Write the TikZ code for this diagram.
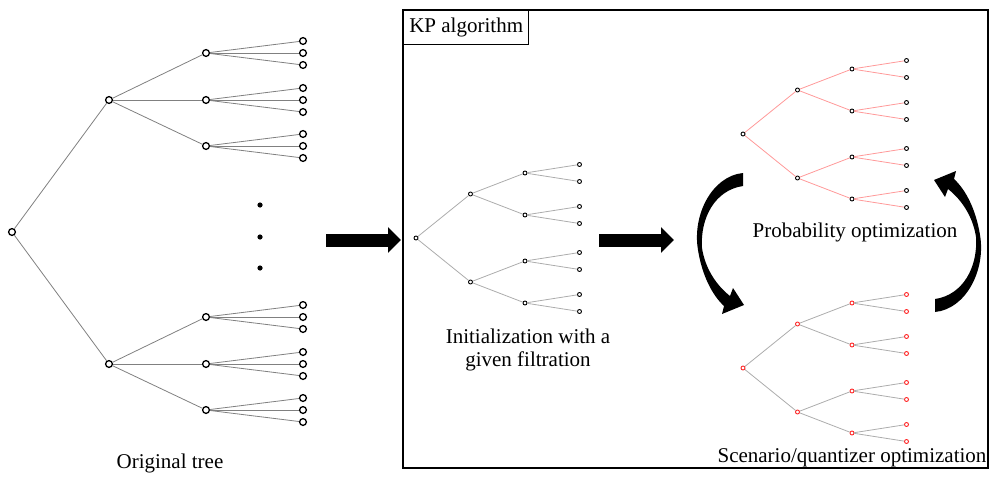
\documentclass[tikz,border=0pt]{standalone}
\usepackage{fontspec}
\setmainfont{Liberation Serif}
\usetikzlibrary{arrows.meta,positioning}

\tikzset{
  bignode/.style={circle,draw,fill=white,line width=0.65pt,inner sep=0pt,minimum size=3.4pt},
  smallnode/.style={circle,draw,fill=white,line width=0.45pt,inner sep=0pt,minimum size=2pt},
  rednode/.style={smallnode,draw=red!85},
  dotnode/.style={circle,fill,inner sep=0pt,minimum size=2.6pt},
  greyedge/.style={draw=gray,line width=0.4pt},
  lightedge/.style={draw=gray!65,line width=0.4pt},
  pinkedge/.style={draw=red!40,line width=0.4pt},
  bigarrow/.style={line width=6.5pt,-{Triangle[length=6.5pt,width=12.5pt]}},
}

% binary tree: prefix, x, y, edge style, node style
\newcommand{\bintree}[5]{%
  \node[#5] (#1) at (#2,#3) {};
  \foreach \i/\d in {1/-44,2/44}{
    \path (#1) ++(54.5,\d) node[#5] (#1\i) {};
    \draw[#4] (#1) -- (#1\i);
    \foreach \j/\e in {1/-21,2/21}{
      \path (#1\i) ++(54.5,\e) node[#5] (#1\i\j) {};
      \draw[#4] (#1\i) -- (#1\i\j);
      \foreach \k/\f in {1/-8.5,2/8.5}{
        \path (#1\i\j) ++(54.5,\f) node[#5] (#1\i\j\k) {};
        \draw[#4] (#1\i\j) -- (#1\i\j\k);
      }
    }
  }}

% tapered half-loop arrow
\newcommand{\swaparrow}{%
  \fill (743,173) .. controls (712,176) and (692,215) .. (698,250)
    .. controls (702,275) and (712,295) .. (724,306)
    -- (722,314) -- (744,305) -- (733,288) -- (730,296)
    .. controls (716,285) and (705,268) .. (702,248)
    .. controls (700,218) and (715,190) .. (743,186) -- cycle;}

\begin{document}
\begin{tikzpicture}[x=0.5pt,y=-0.5pt,every node/.append style={font=\fontsize{10.5}{11.5}\selectfont}]
\useasboundingbox (0,0) rectangle (1005,492);

% original tree
\node[bignode] (R) at (12,232) {};
\foreach \i/\y in {1/100,2/364}{
  \node[bignode] (R\i) at (109,\y) {};
  \draw[greyedge] (R) -- (R\i);
  \foreach \j/\d in {1/-47,2/0,3/46}{
    \path (R\i) ++(97,\d) node[bignode] (R\i\j) {};
    \draw[greyedge] (R\i) -- (R\i\j);
    \foreach \k/\e in {1/-12,2/0,3/12}{
      \path (R\i\j) ++(97,\e) node[bignode] (R\i\j\k) {};
      \draw[greyedge] (R\i\j) -- (R\i\j\k);
    }
  }
}
\foreach \y [count=\n] in {205,237,268}
  \node[dotnode] (dot\n) at (260,\y) {};
\node[anchor=base] (orig) at (170,468) {Original tree};

% arrow into the box
\coordinate (in1) at (326,240);
\coordinate (in2) at (401,240);
\draw[bigarrow] (in1) -- (in2);

% KP algorithm box
\draw[line width=0.8pt] (403,10) rectangle (988,468);
\node[draw,line width=0.7pt,anchor=north west,minimum width=62.5pt,minimum height=17pt,inner sep=0pt] (kp) at (403,10) {KP algorithm};

% initial tree
\bintree{I}{416}{238}{lightedge}{smallnode}
\node[align=center,inner sep=0pt] (init) at (528,350) {Initialization with a\\given filtration};

\coordinate (mid1) at (599,240);
\coordinate (mid2) at (674,240);
\draw[bigarrow] (mid1) -- (mid2);

% probability step
\bintree{P}{743}{134}{pinkedge}{smallnode}
\node[anchor=base] (prob) at (855,237) {Probability optimization};

% scenario step
\bintree{S}{743}{368}{lightedge}{rednode}
\node[anchor=base] (scen) at (852,462) {Scenario/quantizer optimization};

% alternating arrows
\swaparrow
\begin{scope}[rotate around={180:(839,242.5)}]
  \swaparrow
\end{scope}
\end{tikzpicture}
\end{document}
